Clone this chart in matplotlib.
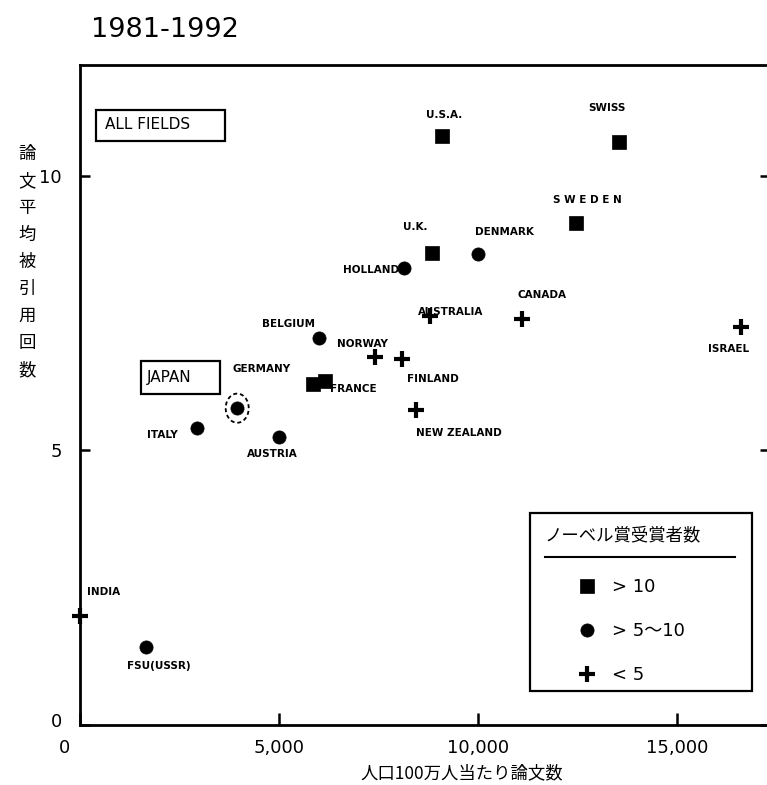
import matplotlib
matplotlib.use('Agg')
import numpy as np
import matplotlib.pyplot as plt
import matplotlib.path as mpath
import matplotlib.transforms as mtransforms
from matplotlib.lines import Line2D
from matplotlib.patches import Rectangle

plt.rcParams['font.family'] = ['DejaVu Sans', 'Noto Sans CJK JP']

# ---------------- data ----------------
countries = ['U.S.A.', 'SWISS', 'S W E D E N', 'U.K.', 'GERMANY', 'FRANCE',
             'DENMARK', 'HOLLAND', 'BELGIUM', 'JAPAN', 'ITALY', 'AUSTRIA',
             'FSU(USSR)', 'AUSTRALIA', 'CANADA', 'ISRAEL', 'FINLAND',
             'NEW ZEALAND', 'NORWAY', 'INDIA']
papers_per_million = [9100, 13550, 12450, 8850, 5850, 6150,
                      10000, 8150, 6000, 3950, 2950, 5000,
                      1650, 8800, 11100, 16600, 8100,
                      8450, 7400, 0]
avg_citations = [10.72, 10.62, 9.14, 8.60, 6.21, 6.27,
                 8.58, 8.32, 7.05, 5.77, 5.40, 5.25,
                 1.42, 7.44, 7.39, 7.24, 6.66,
                 5.74, 6.71, 1.99]
nobel_group = ['>10', '>10', '>10', '>10', '>10', '>10',
               '5-10', '5-10', '5-10', '5-10', '5-10', '5-10',
               '5-10', '<5', '<5', '<5', '<5',
               '<5', '<5', '<5']
group_order = ['>10', '5-10', '<5']
group_labels = ['> 10', '> 5〜10', '< 5']

x_ticks = [0, 5000, 10000, 15000]
x_tick_labels = ['0', '5,000', '10,000', '15,000']
y_ticks = [0, 5, 10]
y_tick_labels = ['0', '5', '10']

title = '1981-1992'
x_label = '人口100万人当たり論文数'
y_label = '論文平均被引用回数'
legend_title = 'ノーベル賞受賞者数'
field_label = 'ALL FIELDS'
highlight = 'JAPAN'

# ---------------- styles / positions ----------------
label_offsets = {  # pixels (dx, dy)
    'U.S.A.': (2, 21), 'SWISS': (-12, 34), 'S W E D E N': (12, 23),
    'U.K.': (-17, 26), 'GERMANY': (-51, 15), 'FRANCE': (29, -8),
    'DENMARK': (26, 22), 'HOLLAND': (-33, -2), 'BELGIUM': (-30, 14),
    'ITALY': (-35, -7), 'AUSTRIA': (-7, -17), 'FSU(USSR)': (13, -19),
    'AUSTRALIA': (20, 4), 'CANADA': (20, 24), 'ISRAEL': (-12, -22),
    'FINLAND': (31, -20), 'NEW ZEALAND': (43, -23), 'NORWAY': (-12, 13),
    'INDIA': (24, 24),
}
marker_style = {
    '>10': dict(marker='s', markersize=10, markerfacecolor='black',
                markeredgecolor='black', markeredgewidth=0.5),
    '5-10': dict(marker='o', markersize=9.5, markerfacecolor='black',
                 markeredgecolor='black', markeredgewidth=0.5),
    '<5': dict(marker='+', markersize=11, markeredgecolor='black',
               markeredgewidth=3),
}

W, H = 767, 785
fig = plt.figure(figsize=(W / 100, H / 100), dpi=100)
ax = fig.add_axes([80 / W, 60 / H, 690 / W, 660 / H])
ax.set_xlim(0, 17337)
ax.set_ylim(0, 12.02)

for s in ax.spines.values():
    s.set_linewidth(2)
    s.set_color('black')

ax.set_xticks(x_ticks)
ax.set_xticklabels(x_tick_labels)
ax.set_yticks(y_ticks)
ax.set_yticklabels(y_tick_labels)
ax.tick_params(axis='y', direction='in', length=7, width=1.8, left=True,
               right=True, pad=13, labelsize=13)
ax.tick_params(axis='x', direction='in', length=8.5, width=1.8, bottom=True,
               top=False, pad=10, labelsize=13)

# shift the x "0" label left and y "0" label up a bit, as in the original
lbl0 = ax.xaxis.get_major_ticks()[0].label1
lbl0.set_transform(lbl0.get_transform() +
                   mtransforms.ScaledTranslation(-0.15, 0, fig.dpi_scale_trans))
lbly0 = ax.yaxis.get_major_ticks()[0].label1
lbly0.set_transform(lbly0.get_transform() +
                    mtransforms.ScaledTranslation(0, 0.05, fig.dpi_scale_trans))

# points
x_arr = np.array(papers_per_million, dtype=float)
y_arr = np.array(avg_citations, dtype=float)
g_arr = np.array(nobel_group)
handles = []
for g in group_order:
    m = g_arr == g
    h, = ax.plot(x_arr[m], y_arr[m], linestyle='none', clip_on=False,
                 **marker_style[g])
    handles.append(h)

# labels
for name, x, y in zip(countries, papers_per_million, avg_citations):
    if name in label_offsets:
        ax.annotate(name, (x, y), xytext=label_offsets[name],
                    textcoords='offset pixels', ha='center', va='center',
                    fontsize=7.5, fontweight='bold')

# Japan ring (dashed ellipse)
t = np.linspace(0, 2 * np.pi, 60)
ell = mpath.Path(np.column_stack([0.79 * np.cos(t), np.sin(t)]))
j = countries.index(highlight)
ax.scatter([papers_per_million[j]], [avg_citations[j]], marker=ell, s=440,
           facecolors='none', edgecolors='black', linewidths=1.3,
           linestyles=(0, (2.2, 1.6)), zorder=3)

# boxed labels
ax.add_patch(Rectangle((0.0228, 0.8853), 0.1874, 0.0465, transform=ax.transAxes,
                       fill=False, edgecolor='black', linewidth=1.6))
ax.text(0.0362, 0.9091, field_label, transform=ax.transAxes, ha='left',
        va='center', fontsize=11)
ax.add_patch(Rectangle((0.088, 0.5011), 0.1149, 0.0505, transform=ax.transAxes,
                       fill=False, edgecolor='black', linewidth=1.6))
ax.text(0.0971, 0.5258, highlight, transform=ax.transAxes, ha='left',
        va='center', fontsize=11)

# legend
fig.add_artist(Rectangle((530 / W, 1 - 690.7 / H), 221.7 / W, 177.4 / H,
                         transform=fig.transFigure, fill=False,
                         edgecolor='black', linewidth=1.6))
fig.text(545 / W, 1 - 535 / H, legend_title, ha='left', va='center',
         fontsize=12.5, family=['Noto Sans CJK JP', 'DejaVu Sans'])
fig.add_artist(Line2D([545 / W, 735 / W], [1 - 557 / H, 1 - 557 / H],
                      transform=fig.transFigure, color='black', linewidth=1.5))
leg = ax.legend(handles, group_labels, loc='upper left',
                bbox_to_anchor=(578 / W, 1 - 578 / H),
                bbox_transform=fig.transFigure, frameon=False, borderpad=0,
                borderaxespad=0, handlelength=1.0, handletextpad=0.9,
                labelspacing=1.45, fontsize=13)

# titles
fig.text(91 / W, 1 - 30 / H, title, ha='left', va='center', fontsize=19.5)
fig.text(462 / W, 1 - 773 / H, x_label, ha='center', va='center',
         fontsize=12.5, family=['Noto Sans CJK JP', 'DejaVu Sans'])
fig.text(27 / W, 1 - 262 / H, '\n'.join(y_label), ha='center', va='center',
         fontsize=12.5, linespacing=1.64,
         family=['Noto Sans CJK JP', 'DejaVu Sans'])

fig.savefig('out.png', dpi=100)
